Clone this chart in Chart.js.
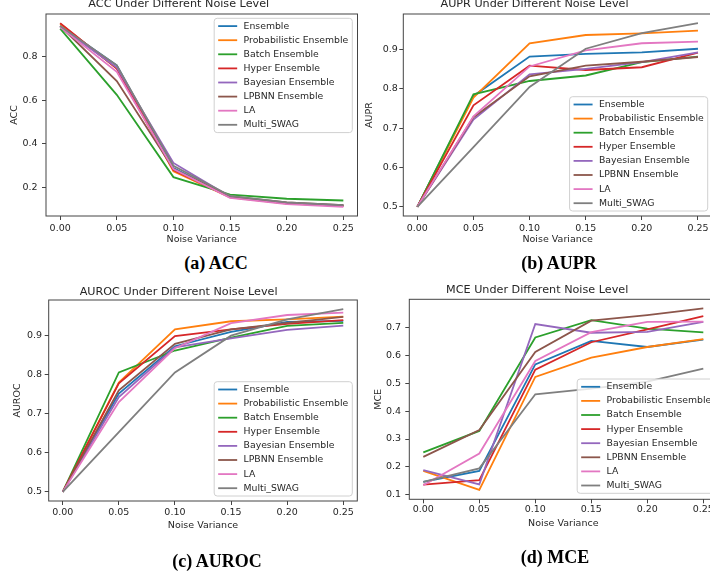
<!DOCTYPE html>
<html>
<head>
<meta charset="utf-8">
<script src="https://cdn.jsdelivr.net/npm/chart.js@4.4.0/dist/chart.umd.min.js"></script>
<style>
  html, body { margin: 0; padding: 0; background: #fff; overflow: hidden; }
  body { position: relative; width: 710px; height: 575px; }
  canvas { position: absolute; }
  .cap { position: absolute; font: bold 18px "Liberation Serif", "Times New Roman", serif; color: #000;
         transform: translate(-50%, -50%); white-space: nowrap; }
</style>
</head>
<body>
<canvas id="accChart" width="362" height="250" style="left:0px;top:0px"></canvas>
<canvas id="auprChart" width="360" height="250" style="left:357px;top:0px"></canvas>
<canvas id="aurocChart" width="362" height="295" style="left:0px;top:280px"></canvas>
<canvas id="mceChart" width="362" height="295" style="left:357px;top:280px"></canvas>
<div class="cap" style="left:216px;top:263px">(a) ACC</div>
<div class="cap" style="left:559px;top:263px">(b) AUPR</div>
<div class="cap" style="left:217px;top:561px">(c) AUROC</div>
<div class="cap" style="left:555px;top:557px">(d) MCE</div>
<script>
const FONT = '"DejaVu Sans", sans-serif';
const TEXT = '#262626';

const noise = [0, 0.05, 0.10, 0.15, 0.20, 0.25];
const methods = ['Ensemble', 'Probabilistic Ensemble', 'Batch Ensemble', 'Hyper Ensemble',
                 'Bayesian Ensemble', 'LPBNN Ensemble', 'LA', 'Multi_SWAG'];
const colors = ['#1f77b4', '#ff7f0e', '#2ca02c', '#d62728', '#9467bd', '#8c564b', '#e377c2', '#7f7f7f'];

// one row per method, one value per noise level
const accValues = [
  [0.940, 0.760, 0.290, 0.158, 0.128, 0.118],
  [0.950, 0.745, 0.275, 0.155, 0.127, 0.116],
  [0.928, 0.625, 0.248, 0.168, 0.149, 0.141],
  [0.953, 0.745, 0.280, 0.157, 0.128, 0.117],
  [0.935, 0.750, 0.313, 0.158, 0.130, 0.117],
  [0.940, 0.688, 0.285, 0.160, 0.132, 0.120],
  [0.935, 0.730, 0.285, 0.153, 0.124, 0.112],
  [0.940, 0.760, 0.300, 0.162, 0.132, 0.120]
];
const auprValues = [
  [0.5, 0.782, 0.882, 0.889, 0.893, 0.902],
  [0.5, 0.778, 0.916, 0.937, 0.941, 0.948],
  [0.5, 0.786, 0.820, 0.834, 0.868, 0.882],
  [0.5, 0.758, 0.859, 0.848, 0.855, 0.892],
  [0.5, 0.722, 0.837, 0.851, 0.868, 0.893],
  [0.5, 0.728, 0.832, 0.859, 0.869, 0.881],
  [0.5, 0.730, 0.857, 0.898, 0.916, 0.920],
  [0.5, 0.652, 0.805, 0.902, 0.942, 0.967]
];
const aurocValues = [
  [0.5, 0.752, 0.873, 0.910, 0.935, 0.938],
  [0.5, 0.780, 0.916, 0.937, 0.942, 0.949],
  [0.5, 0.806, 0.862, 0.895, 0.925, 0.933],
  [0.5, 0.778, 0.899, 0.916, 0.930, 0.940],
  [0.5, 0.743, 0.870, 0.893, 0.915, 0.926],
  [0.5, 0.760, 0.879, 0.916, 0.933, 0.948],
  [0.5, 0.730, 0.868, 0.932, 0.953, 0.959],
  [0.5, 0.653, 0.806, 0.900, 0.942, 0.968]
];
const mceValues = [
  [0.147, 0.186, 0.567, 0.651, 0.629, 0.655],
  [0.186, 0.118, 0.522, 0.591, 0.629, 0.657],
  [0.252, 0.329, 0.663, 0.725, 0.695, 0.681],
  [0.137, 0.153, 0.548, 0.646, 0.692, 0.739],
  [0.189, 0.138, 0.711, 0.680, 0.683, 0.719],
  [0.236, 0.332, 0.611, 0.723, 0.743, 0.767],
  [0.135, 0.248, 0.579, 0.682, 0.719, 0.720],
  [0.147, 0.195, 0.460, 0.480, 0.505, 0.552]
];

const xTicks = [0, 0.05, 0.10, 0.15, 0.20, 0.25];
const accTicks = [0.2, 0.4, 0.6, 0.8];
const auprTicks = [0.5, 0.6, 0.7, 0.8, 0.9];
const aurocTicks = [0.5, 0.6, 0.7, 0.8, 0.9];
const mceTicks = [0.1, 0.2, 0.3, 0.4, 0.5, 0.6, 0.7];

const xRange = [-0.0125, 0.2625];
const accRange = [0.070, 0.995];
const auprRange = [0.4766, 0.9904];
const aurocRange = [0.4766, 0.9914];
const mceRange = [0.0845, 0.7995];

// matplotlib style box around the plot area
const framePlugin = {
  id: 'frame',
  afterDatasetsDraw(chart) {
    const { ctx, chartArea: a } = chart;
    ctx.save();
    ctx.strokeStyle = '#444';
    ctx.lineWidth = 1;
    ctx.strokeRect(a.left, a.top, a.right - a.left, a.bottom - a.top);
    ctx.restore();
  }
};

// legend box drawn inside the plot area, like plt.legend()
const boxLegend = {
  id: 'boxLegend',
  afterDraw(chart, args, opts) {
    const { ctx, chartArea: area } = chart;
    const sets = chart.data.datasets;
    const rowH = 14.1, pad = 4, handle = 19, gap = 6.4, edge = 7.8;
    ctx.save();
    ctx.font = '9.3px ' + FONT;
    const textW = Math.max(...sets.map(d => ctx.measureText(d.label).width));
    const w = pad + handle + gap + textW + pad;
    const h = 2 * edge + (sets.length - 1) * rowH;
    const x = area.right - opts.right - w;
    const y = opts.corner === 'top' ? area.top + opts.inset : area.bottom - opts.inset - h;

    ctx.beginPath();
    ctx.roundRect(x, y, w, h, 3);
    ctx.fillStyle = 'rgba(255,255,255,0.8)';
    ctx.fill();
    ctx.strokeStyle = '#d0d0d0';
    ctx.lineWidth = 1;
    ctx.stroke();

    ctx.textBaseline = 'middle';
    sets.forEach((d, i) => {
      const cy = y + edge + i * rowH;
      ctx.strokeStyle = d.borderColor;
      ctx.lineWidth = 1.8;
      ctx.beginPath();
      ctx.moveTo(x + pad, cy);
      ctx.lineTo(x + pad + handle, cy);
      ctx.stroke();
      ctx.fillStyle = TEXT;
      ctx.fillText(d.label, x + pad + handle + gap, cy);
    });
    ctx.restore();
  }
};

function makePanel(id, p) {
  const tickGrid = { display: true, drawOnChartArea: false, drawTicks: true, tickLength: 4, color: '#444', lineWidth: 1 };
  const tickFont = { family: FONT, size: 9.5 };

  new Chart(document.getElementById(id), {
    type: 'line',
    data: {
      datasets: methods.map((m, i) => ({
        label: m,
        data: noise.map((x, j) => ({ x: x, y: p.values[i][j] })),
        borderColor: colors[i],
        backgroundColor: colors[i],
        borderWidth: 1.8,
        pointRadius: 0,
        tension: 0,
        order: methods.length - i   // later series on top, as in matplotlib
      }))
    },
    options: {
      responsive: false,
      animation: false,
      events: [],
      layout: { padding: { left: 0, top: 0, right: p.padRight, bottom: p.padBottom } },
      plugins: {
        legend: { display: false },
        tooltip: { enabled: false },
        title: {
          display: true,
          text: p.title,
          color: TEXT,
          font: { family: FONT, size: 11.2, weight: 'normal', lineHeight: 0.75 },
          padding: { top: p.titleTop, bottom: p.titleBottom }
        },
        boxLegend: p.legend
      },
      scales: {
        x: {
          type: 'linear',
          min: xRange[0],
          max: xRange[1],
          afterFit: s => { s.height = p.xHeight; },
          afterBuildTicks: s => { s.ticks = xTicks.map(v => ({ value: v })); },
          ticks: { callback: v => v.toFixed(2), color: TEXT, font: tickFont, padding: p.xTickPad, maxRotation: 0, autoSkip: false },
          grid: tickGrid,
          border: { display: false },
          title: { display: true, text: 'Noise Variance', color: TEXT, font: { family: FONT, size: 9.5 }, padding: { top: 0, bottom: 0 } }
        },
        y: {
          type: 'linear',
          min: p.range[0],
          max: p.range[1],
          afterFit: s => { s.width = p.yWidth; },
          afterBuildTicks: s => { s.ticks = p.ticks.map(v => ({ value: v })); },
          ticks: { callback: v => v.toFixed(1), color: TEXT, font: tickFont, padding: p.yTickPad, autoSkip: false },
          grid: tickGrid,
          border: { display: false },
          title: { display: true, text: p.yLabel, color: TEXT, font: { family: FONT, size: 9.5 }, padding: { top: p.yTitlePad, bottom: 0 } }
        }
      }
    },
    plugins: [framePlugin, boxLegend]
  });
}

makePanel('accChart', {
  title: 'ACC Under Different Noise Level', yLabel: 'ACC',
  values: accValues, ticks: accTicks, range: accRange,
  titleTop: 0, titleBottom: 5.6, padRight: 4.5, padBottom: 5, xHeight: 29, yWidth: 46,
  xTickPad: 2.6, yTickPad: 4.4, yTitlePad: 9.3,
  legend: { corner: 'top', inset: 4.3, right: 5.2 }
});
makePanel('auprChart', {
  title: 'AUPR Under Different Noise Level', yLabel: 'AUPR',
  values: auprValues, ticks: auprTicks, range: auprRange,
  titleTop: 0, titleBottom: 5.6, padRight: 5, padBottom: 5, xHeight: 29, yWidth: 46.3,
  xTickPad: 2.6, yTickPad: 1.5, yTitlePad: 7.3,
  legend: { corner: 'bottom', inset: 5, right: 4.3 }
});
makePanel('aurocChart', {
  title: 'AUROC Under Different Noise Level', yLabel: 'AUROC',
  values: aurocValues, ticks: aurocTicks, range: aurocRange,
  titleTop: 7.8, titleBottom: 3.8, padRight: 4.7, padBottom: 43.6, xHeight: 30.4, yWidth: 48.7,
  xTickPad: 1.6, yTickPad: 2.7, yTitlePad: 11.6,
  legend: { corner: 'bottom', inset: 5, right: 5 }
});
makePanel('mceChart', {
  title: 'MCE Under Different Noise Level', yLabel: 'MCE',
  values: mceValues, ticks: mceTicks, range: mceRange,
  titleTop: 6.3, titleBottom: 4.6, padRight: 1.7, padBottom: 46, xHeight: 29.7, yWidth: 52.3,
  xTickPad: 1.0, yTickPad: 4.3, yTitlePad: 16.3,
  legend: { corner: 'bottom', inset: 6, right: 2 }
});
</script>
</body>
</html>
